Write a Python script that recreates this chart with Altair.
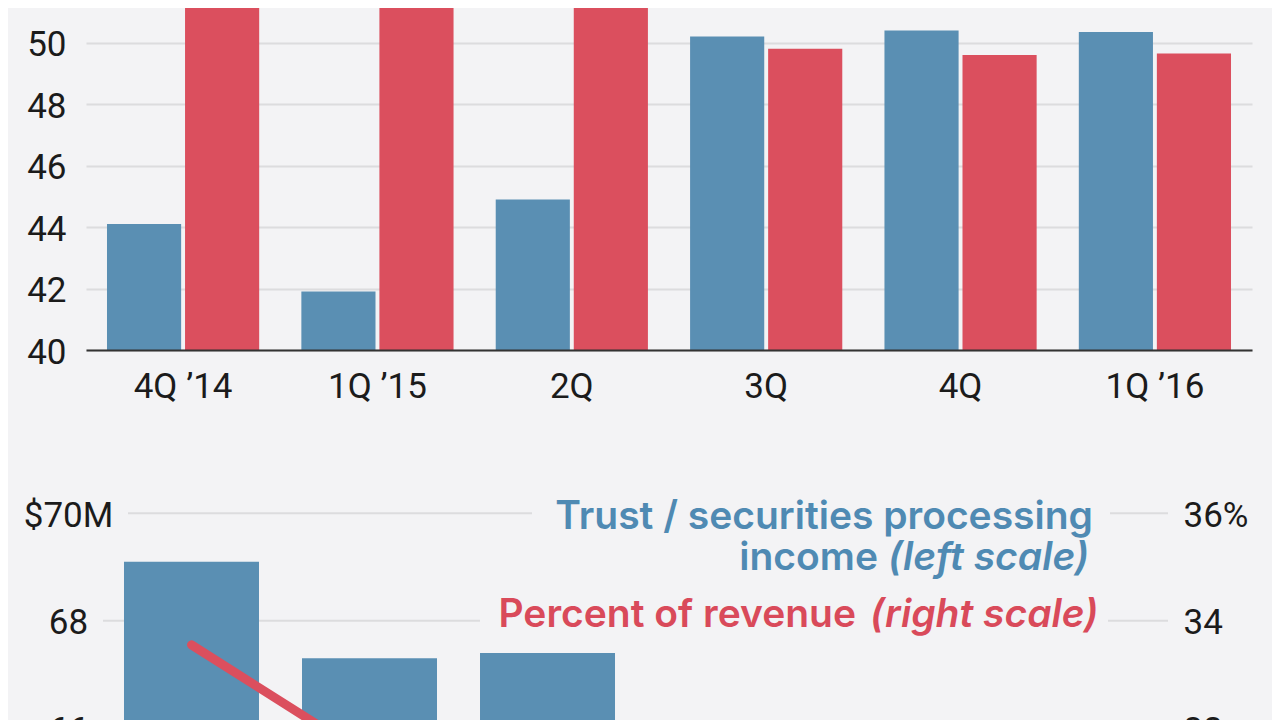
import altair as alt
import pandas as pd

# ---------------- data ----------------
quarters = ["4Q ’14", "1Q ’15", "2Q", "3Q", "4Q", "1Q ’16"]
series = ["a", "b"]
# upper panel (blue / red bars); first three red bars run off the top of the crop
top_blue = [44.1, 41.9, 44.9, 50.2, 50.4, 50.35]
top_red = [53.0, 53.5, 52.8, 49.8, 49.6, 49.65]
top_ticks = [40, 42, 44, 46, 48, 50]

# lower panel: trust / securities processing income ($M, left) and percent of revenue (right)
income_quarters = ["4Q ’14", "1Q ’15", "2Q"]
income = [69.1, 67.3, 67.4]
pct_quarters = ["4Q ’14", "1Q ’15"]
pct = [33.55, 31.45]
left_ticks = [62, 64, 66, 68, 70]
right_ticks = [28, 30, 32, 34, 36]

# ---------------- style ----------------
BG = "#f3f3f5"
BLUE = "#5a8fb3"
RED = "#db4f5e"
BLUE_T = "#4f8ab3"
RED_T = "#d94a5a"
GRID = "#dcdcde"
AXIS_FONT = "Roboto, sans-serif"
LEG_FONT = "Inter, Liberation Sans, sans-serif"
INK = "#1b1b1b"
AX_FS = 35
LEG_FS = 39

top_df = pd.DataFrame({
    "quarter": quarters * 2,
    "series": [series[0]] * 6 + [series[1]] * 6,
    "value": top_blue + top_red,
})

top = alt.Chart(top_df).mark_bar(clip=True).encode(
    x=alt.X("quarter:N",
            scale=alt.Scale(domain=quarters, paddingInner=0.217, paddingOuter=0.108),
            axis=alt.Axis(title=None, labelAngle=0, ticks=False, tickSize=0, labelPadding=19,
                          domainColor="#333333", domainWidth=2, labelFontSize=AX_FS, zindex=1,
                          grid=False)),
    xOffset=alt.XOffset("series:N", scale=alt.Scale(domain=series, paddingInner=0.05, paddingOuter=0)),
    y=alt.Y("value:Q", scale=alt.Scale(domain=[40, 51.13], nice=False, zero=False),
            axis=alt.Axis(values=top_ticks, title=None, domain=False, ticks=False, tickSize=0,
                          labelPadding=20, gridColor=GRID, gridWidth=2, labelFontSize=AX_FS,
                          labelOffset=2)),
    color=alt.Color("series:N", scale=alt.Scale(domain=series, range=[BLUE, RED]), legend=None),
).properties(width=1166, height=342)

xs = alt.Scale(domain=quarters, paddingInner=0.2416, paddingOuter=0.16, align=0.667)
yL = alt.Scale(domain=[62, 70], nice=False, zero=False)
yR = alt.Scale(domain=[28, 36], nice=False, zero=False)
axL = alt.Axis(values=left_ticks, title=None, grid=False, domain=False, ticks=False, tickSize=0,
               labelAlign="center", labelPadding=18, labelFontSize=AX_FS, zindex=1, labelOffset=2,
               labelExpr="datum.value == 70 ? '$70M' : datum.label")
axR = alt.Axis(values=right_ticks, title=None, grid=False, domain=False, ticks=False, tickSize=0,
               orient="right", labelPadding=15, labelFontSize=AX_FS, zindex=1, labelOffset=2,
               labelExpr="datum.value == 36 ? '36%' : datum.label")

inc_df = pd.DataFrame({"quarter": income_quarters, "income": income})
pct_df = pd.DataFrame({"quarter": pct_quarters, "pct": pct})
grid_df = pd.DataFrame({"income": left_ticks})
one = pd.DataFrame({"k": [0]})

grid = alt.Chart(grid_df).mark_rule(color=GRID, strokeWidth=2).encode(
    y=alt.Y("income:Q", scale=yL, axis=axL),
    x=alt.value(17), x2=alt.value(1082),
)

def mask(x0, x1, y0, y1):
    return alt.Chart(one).mark_rect(color=BG).encode(
        x=alt.value(x0), x2=alt.value(x1), y=alt.value(y0), y2=alt.value(y1))

bars = alt.Chart(inc_df).mark_bar(color=BLUE, clip=True).encode(
    x=alt.X("quarter:N", scale=xs, axis=None),
    y=alt.Y("income:Q", scale=yL, axis=axL),
)

inner = alt.layer(grid, mask(17, 42, -6, 6), mask(446, 1024, -6, 6), mask(394, 1022, 101, 114), bars)

line = alt.Chart(pct_df).mark_line(color=RED, strokeWidth=9, strokeCap="round").encode(
    x=alt.X("quarter:N", scale=xs, axis=None),
    y=alt.Y("pct:Q", scale=yR, axis=axR),
)

def label(txt, x, y, color, align="right", italic=False):
    return alt.Chart(one).mark_text(
        text=txt, align=align, baseline="alphabetic", font=LEG_FONT, fontSize=LEG_FS,
        fontWeight=600, fontStyle="italic" if italic else "normal", color=color,
    ).encode(x=alt.value(x), y=alt.value(y))

texts = [
    label("Trust / securities processing", 1007, 15.7, BLUE_T),
    label("(left scale)", 802, 56.7, BLUE_T, align="left", italic=True),
    label("income", 792, 56.7, BLUE_T),
    label("(right scale)", 784, 113.7, RED_T, align="left", italic=True),
    label("Percent of revenue", 770, 113.7, RED_T),
]

bottom = alt.layer(inner, line, *texts).resolve_scale(y="independent").properties(
    width=1082, height=429.6)

chart = alt.vconcat(top, bottom, spacing=163.3, bounds="flush").properties(
    padding={"left": 15, "top": 0, "right": 20, "bottom": 0},
    background=BG,
).configure_view(stroke=None).configure_axis(labelFont=AXIS_FONT, labelColor=INK)

chart.save("out.html", embed_options={"renderer": "svg", "actions": False})
